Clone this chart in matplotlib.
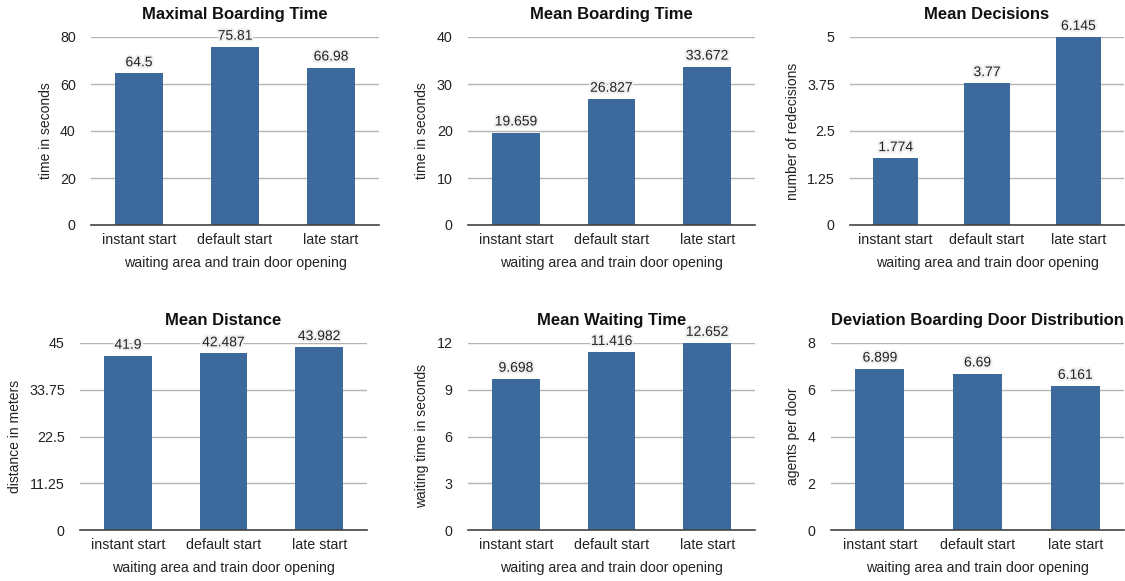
import matplotlib
matplotlib.use("Agg")
import matplotlib.pyplot as plt
import matplotlib.patheffects as pe

plt.rcParams['font.family'] = ['Liberation Sans', 'DejaVu Sans']

categories = ["instant start", "default start", "late start"]

titles = ["Maximal Boarding Time", "Mean Boarding Time", "Mean Decisions",
          "Mean Distance", "Mean Waiting Time", "Deviation Boarding Door Distribution"]
ylabels = ["time in seconds", "time in seconds", "number of redecisions",
           "distance in meters", "waiting time in seconds", "agents per door"]
xlabel = "waiting area and train door opening"

max_boarding = [64.5, 75.81, 66.98]
mean_boarding = [19.659, 26.827, 33.672]
mean_decisions = [1.774, 3.77, 6.145]
mean_distance = [41.9, 42.487, 43.982]
mean_waiting = [9.698, 11.416, 12.652]
deviation_door = [6.899, 6.69, 6.161]

labels_max_boarding = ["64.5", "75.81", "66.98"]
labels_mean_boarding = ["19.659", "26.827", "33.672"]
labels_mean_decisions = ["1.774", "3.77", "6.145"]
labels_mean_distance = ["41.9", "42.487", "43.982"]
labels_mean_waiting = ["9.698", "11.416", "12.652"]
labels_deviation_door = ["6.899", "6.69", "6.161"]

ticks_max_boarding = [0, 20, 40, 60, 80]
ticks_mean_boarding = [0, 10, 20, 30, 40]
ticks_mean_decisions = [0, 1.25, 2.5, 3.75, 5]
ticks_mean_distance = [0, 11.25, 22.5, 33.75, 45]
ticks_mean_waiting = [0, 3, 6, 9, 12]
ticks_deviation_door = [0, 2, 4, 6, 8]
ticklabels_mean_decisions = ["0", "1.25", "2.5", "3.75", "5"]
ticklabels_mean_distance = ["0", "11.25", "22.5", "33.75", "45"]

series = [max_boarding, mean_boarding, mean_decisions, mean_distance, mean_waiting, deviation_door]
vlabels = [labels_max_boarding, labels_mean_boarding, labels_mean_decisions,
           labels_mean_distance, labels_mean_waiting, labels_deviation_door]
ticks = [ticks_max_boarding, ticks_mean_boarding, ticks_mean_decisions,
         ticks_mean_distance, ticks_mean_waiting, ticks_deviation_door]
ticklabels = [[str(t) for t in ticks_max_boarding], [str(t) for t in ticks_mean_boarding],
              ticklabels_mean_decisions, ticklabels_mean_distance,
              [str(t) for t in ticks_mean_waiting], [str(t) for t in ticks_deviation_door]]

W, H = 1125, 581
fig = plt.figure(figsize=(W / 100, H / 100), dpi=100)

# axes boxes in pixels: left, right, top, bottom
boxes = [(91, 379, 37, 225), (468, 755, 37, 225), (850, 1124, 37, 225),
         (80, 367, 343, 530), (468, 755, 343, 530), (831, 1124, 343, 530)]
# y-label center x positions in pixels
ylabel_x = [46, 422, 793, 15, 422, 793]

bar_color = "#3c6a9c"
grid_color = "#b4b4b4"

for i in range(6):
    l, r, t, b = boxes[i]
    ax = fig.add_axes([l / W, 1 - b / H, (r - l) / W, (b - t) / H])
    vals = series[i]
    ymax = ticks[i][-1]
    x = list(range(len(categories)))
    ax.bar(x, vals, width=0.5, color=bar_color, zorder=3)
    ax.set_xlim(-0.5, 2.5)
    ax.set_ylim(0, ymax)
    ax.set_yticks(ticks[i])
    ax.set_yticklabels(ticklabels[i])
    ax.set_xticks(x)
    ax.set_xticklabels(categories)
    ax.yaxis.grid(True, color=grid_color, linewidth=1.0, zorder=0)
    ax.set_axisbelow(True)
    for s in ["left", "right", "top"]:
        ax.spines[s].set_visible(False)
    ax.spines["bottom"].set_color("#444444")
    ax.spines["bottom"].set_linewidth(1.2)
    ax.spines["bottom"].set_zorder(4)
    ax.tick_params(axis="both", length=0, labelsize=10.3, colors="#222222")
    ax.tick_params(axis="y", pad=11)
    ax.tick_params(axis="x", pad=6)
    ax.set_title(titles[i], fontsize=12, fontweight="bold", pad=13, color="#111111")
    ax.set_ylabel(ylabels[i], fontsize=10, color="#222222")
    ax.yaxis.label.set_verticalalignment("center")
    ax.yaxis.set_label_coords((ylabel_x[i] - l) / (r - l), 0.5)
    ax.set_xlabel(xlabel, fontsize=10.2, color="#222222", labelpad=6)
    for xi, v, lab in zip(x, vals, vlabels[i]):
        yv = min(v, ymax)
        ax.annotate(lab, (xi, yv), xytext=(0, 3), textcoords="offset points",
                    ha="center", va="bottom", fontsize=10, color="#222222",
                    annotation_clip=False, zorder=5,
                    path_effects=[pe.withStroke(linewidth=3, foreground="#f0f0f0")])

fig.savefig("out.png", dpi=100, facecolor="white")
